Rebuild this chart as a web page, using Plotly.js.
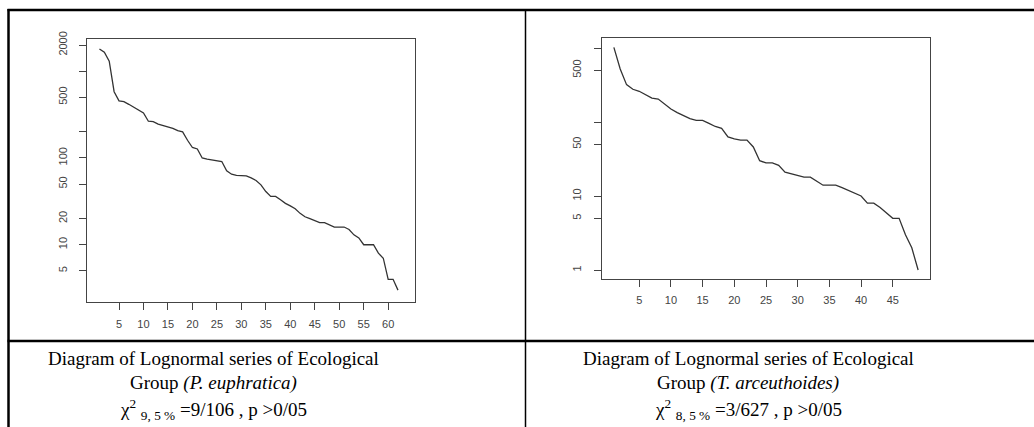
<!DOCTYPE html>
<html>
<head>
<meta charset="utf-8">
<script src="https://cdn.plot.ly/plotly-3.0.1.min.js"></script>
<style>html,body{margin:0;padding:0;background:#fff;}#chart{width:1034px;height:427px;}</style>
</head>
<body>
<div id="chart"></div>
<script>
// ---- data ----
const ranksLeft = [1,2,3,4,5,6,7,8,9,10,11,12,13,14,15,16,17,18,19,20,21,22,23,24,25,26,27,28,29,30,31,32,33,34,35,36,37,38,39,40,41,42,43,44,45,46,47,48,49,50,51,52,53,54,55,56,57,58,59,60,61,62,63];
const abundLeft = [1800,1650,1300,580,455,445,415,385,350,330,265,262,245,237,229,219,206,200,160,132,127,100,97,95,93,91,71,65,63,63,62,59,55,49,41,36,36,33,30,28,26,23,21,20,19,18,18,17,16,16,16,15,13,12,10,10,10,8,7,4,4,3];
const ranksRight = [1,2,3,4,5,6,7,8,9,10,11,12,13,14,15,16,17,18,19,20,21,22,23,24,25,26,27,28,29,30,31,32,33,34,35,36,37,38,39,40,41,42,43,44,45,46,47,48,49];
const abundRight = [1020,520,320,277,260,233,210,204,173,150,134,121,111,105,105,96,87,82,63,59,57,57,46,30,28,28,26,21,20,19,18,18,16,14,14,14,13,12,11,10,8,8,7,6,5,5,3,2,1];

const xTicksLeft = [5,10,15,20,25,30,35,40,45,50,55,60];
const xTicksRight = [5,10,15,20,25,30,35,40,45];
const yLabelledLeft = [5,10,20,50,100,500,2000];
const yUnlabelledLeft = [200,1000];
const yLabelledRight = [1,5,10,50,500];
const yUnlabelledRight = [100,1000];

const captionLeft = [
  'Diagram of Lognormal series of Ecological',
  'Group <i>(P. euphratica)</i>',
  'χ<sup>2</sup> <sub>9, 5 %</sub> =9/106 , p >0/05'
];
const captionRight = [
  'Diagram of Lognormal series of Ecological',
  'Group <i>(T. arceuthoides)</i>',
  'χ<sup>2</sup> <sub>8, 5 %</sub> =3/627 , p >0/05'
];

// ---- layout helpers ----
const W = 1034, H = 427;
const px = x => x / W;
const py = y => 1 - y / H;

const tickFont = {family: 'Liberation Sans, Arial, sans-serif', size: 11, color: '#444'};
function xAxis(dom, range, ticks, anchor) {
  return {domain: dom, range: range, anchor: anchor, showline: true, mirror: true,
    linecolor: '#444', linewidth: 1, ticks: 'outside', ticklen: 7, tickwidth: 1, tickcolor: '#444',
    tickmode: 'array', tickvals: ticks, ticktext: ticks.map(String), showgrid: false, zeroline: false,
    tickfont: tickFont, ticklabelstandoff: 4, fixedrange: true};
}
function yAxis(dom, range, vals, minorVals, anchor) {
  return {type: 'log', domain: dom, range: range, anchor: anchor, showline: true, mirror: true,
    linecolor: '#444', linewidth: 1, ticks: 'outside', ticklen: 7, tickwidth: 1, tickcolor: '#444',
    tickmode: 'array', tickvals: vals, ticktext: vals.map(String), showgrid: false, zeroline: false, tickangle: -90,
    minor: {tickmode: 'array', tickvals: minorVals, ticks: 'outside', ticklen: 7, tickwidth: 1, tickcolor: '#444', showgrid: false},
    tickfont: tickFont, ticklabelstandoff: 8, fixedrange: true};
}

const traces = [
  {x: ranksLeft, y: abundLeft, type: 'scatter', mode: 'lines', xaxis: 'x', yaxis: 'y',
   line: {color: '#333', width: 1.3}, hoverinfo: 'skip'},
  {x: ranksRight, y: abundRight, type: 'scatter', mode: 'lines', xaxis: 'x2', yaxis: 'y2',
   line: {color: '#333', width: 1.3}, hoverinfo: 'skip'}
];

const captionFont = {family: 'Liberation Serif, Times New Roman, serif', size: 19, color: '#000'};
const lineY = [358, 383, 409];
const annotations = [];
captionLeft.forEach((t, i) => annotations.push({text: t, xref: 'paper', yref: 'paper',
  x: px(213), y: py(lineY[i]), xanchor: 'center', yanchor: 'middle', showarrow: false, font: captionFont}));
captionRight.forEach((t, i) => annotations.push({text: t, xref: 'paper', yref: 'paper',
  x: px(748), y: py(lineY[i]), xanchor: 'center', yanchor: 'middle', showarrow: false, font: captionFont}));

const borderColor = '#000';
const shapes = [
  {type: 'line', xref: 'paper', yref: 'paper', x0: px(7.5), x1: px(1034), y0: py(10), y1: py(10), line: {color: borderColor, width: 2.5}},
  {type: 'line', xref: 'paper', yref: 'paper', x0: px(8.5), x1: px(8.5), y0: py(9), y1: py(427), line: {color: borderColor, width: 2.5}},
  {type: 'line', xref: 'paper', yref: 'paper', x0: px(525.5), x1: px(525.5), y0: py(10), y1: py(427), line: {color: borderColor, width: 1.5}},
  {type: 'line', xref: 'paper', yref: 'paper', x0: px(7.5), x1: px(1034), y0: py(341), y1: py(341), line: {color: borderColor, width: 2.5}}
];

const layout = {
  width: W, height: H, margin: {l: 0, r: 0, t: 0, b: 0},
  paper_bgcolor: '#fff', plot_bgcolor: '#fff', showlegend: false,
  xaxis: xAxis([px(87.3), px(415)], [-1.48, 65.48], xTicksLeft, 'y'),
  yaxis: yAxis([py(302.3), py(39.3)], [0.337, 3.367], yLabelledLeft, yUnlabelledLeft, 'x'),
  xaxis2: xAxis([px(601.7), px(930.3)], [-0.92, 50.92], xTicksRight, 'y2'),
  yaxis2: yAxis([py(279), py(38.3)], [-0.121, 3.131], yLabelledRight, yUnlabelledRight, 'x2'),
  annotations: annotations,
  shapes: shapes
};

Plotly.newPlot('chart', traces, layout, {staticPlot: true, displayModeBar: false});
</script>
</body>
</html>
